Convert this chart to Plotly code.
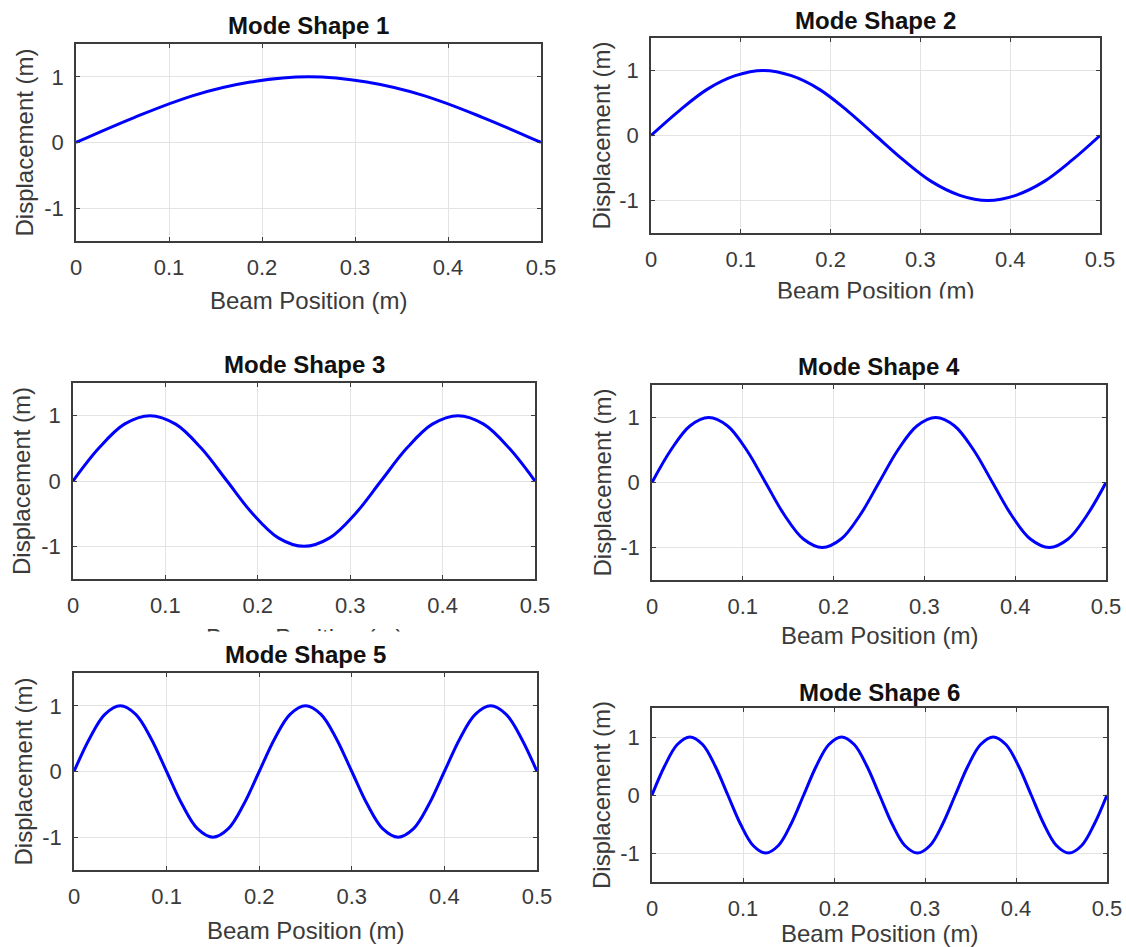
import plotly.graph_objects as go

# ---- data ----
mode1_x = [0, 0.0625, 0.125, 0.1875, 0.25, 0.3125, 0.375, 0.4375, 0.5]
mode1_y = [0, 0.38, 0.71, 0.92, 1, 0.92, 0.71, 0.38, 0]

mode2_x = [0, 0.0313, 0.0625, 0.0938, 0.125, 0.1563, 0.1875, 0.2188, 0.25,
           0.2813, 0.3125, 0.3438, 0.375, 0.4063, 0.4375, 0.4688, 0.5]
mode2_y = [0, 0.38, 0.71, 0.92, 1, 0.92, 0.71, 0.38, 0,
           -0.38, -0.71, -0.92, -1, -0.92, -0.71, -0.38, 0]

mode3_x = [0, 0.0278, 0.0556, 0.0833, 0.1111, 0.1389, 0.1667, 0.1944, 0.2222, 0.25,
           0.2778, 0.3056, 0.3333, 0.3611, 0.3889, 0.4167, 0.4444, 0.4722, 0.5]
mode3_y = [0, 0.5, 0.87, 1, 0.87, 0.5, 0, -0.5, -0.87, -1,
           -0.87, -0.5, 0, 0.5, 0.87, 1, 0.87, 0.5, 0]

mode4_x = [0, 0.0208, 0.0417, 0.0625, 0.0833, 0.1042, 0.125, 0.1458, 0.1667, 0.1875, 0.2083, 0.2292,
           0.25, 0.2708, 0.2917, 0.3125, 0.3333, 0.3542, 0.375, 0.3958, 0.4167, 0.4375, 0.4583, 0.4792, 0.5]
mode4_y = [0, 0.5, 0.87, 1, 0.87, 0.5, 0, -0.5, -0.87, -1, -0.87, -0.5,
           0, 0.5, 0.87, 1, 0.87, 0.5, 0, -0.5, -0.87, -1, -0.87, -0.5, 0]

mode5_x = [0, 0.0167, 0.0333, 0.05, 0.0667, 0.0833, 0.1, 0.1167, 0.1333, 0.15, 0.1667, 0.1833,
           0.2, 0.2167, 0.2333, 0.25, 0.2667, 0.2833, 0.3, 0.3167, 0.3333, 0.35, 0.3667, 0.3833,
           0.4, 0.4167, 0.4333, 0.45, 0.4667, 0.4833, 0.5]
mode5_y = [0, 0.5, 0.87, 1, 0.87, 0.5, 0, -0.5, -0.87, -1, -0.87, -0.5,
           0, 0.5, 0.87, 1, 0.87, 0.5, 0, -0.5, -0.87, -1, -0.87, -0.5,
           0, 0.5, 0.87, 1, 0.87, 0.5, 0]

mode6_x = [0, 0.0139, 0.0278, 0.0417, 0.0556, 0.0694, 0.0833, 0.0972, 0.1111, 0.125, 0.1389, 0.1528,
           0.1667, 0.1806, 0.1944, 0.2083, 0.2222, 0.2361, 0.25, 0.2639, 0.2778, 0.2917, 0.3056, 0.3194,
           0.3333, 0.3472, 0.3611, 0.375, 0.3889, 0.4028, 0.4167, 0.4306, 0.4444, 0.4583, 0.4722, 0.4861, 0.5]
mode6_y = [0, 0.5, 0.87, 1, 0.87, 0.5, 0, -0.5, -0.87, -1, -0.87, -0.5,
           0, 0.5, 0.87, 1, 0.87, 0.5, 0, -0.5, -0.87, -1, -0.87, -0.5,
           0, 0.5, 0.87, 1, 0.87, 0.5, 0, -0.5, -0.87, -1, -0.87, -0.5, 0]

titles = ["Mode Shape 1", "Mode Shape 2", "Mode Shape 3", "Mode Shape 4", "Mode Shape 5", "Mode Shape 6"]
x_ticks = [0, 0.1, 0.2, 0.3, 0.4, 0.5]
x_ticklabels = ["0", "0.1", "0.2", "0.3", "0.4", "0.5"]
y_ticks = [-1, 0, 1]
y_ticklabels = ["-1", "0", "1"]
x_label = "Beam Position (m)"
y_label = "Displacement (m)"

xs = [mode1_x, mode2_x, mode3_x, mode4_x, mode5_x, mode6_x]
ys = [mode1_y, mode2_y, mode3_y, mode4_y, mode5_y, mode6_y]

# ---- layout geometry (pixels) ----
W, H = 1126, 947
# left, right, top, bottom of each plot box
boxes = [
    (76, 541, 44, 241),
    (651, 1100, 38, 233),
    (73, 535, 383, 579),
    (652, 1106, 385, 580),
    (74, 537, 673, 870),
    (652, 1107, 708, 882),
]
title_y = [25, 20, 364, 366, 654, 692]
xlabel_y = [300, 290, 637, 635, 930, 933]
ylabel_x = [24, 601, 22, 602, 23, 601]

FONT = "Liberation Sans, Arial, Helvetica, sans-serif"
TXT = "#3a3a3a"

fig = go.Figure()
layout = dict(width=W, height=H, margin=dict(l=0, r=0, t=0, b=0, autoexpand=False),
              paper_bgcolor="white", plot_bgcolor="white", showlegend=False,
              font=dict(family=FONT, color=TXT, size=22))
annotations = []
for i in range(6):
    k = "" if i == 0 else str(i + 1)
    L, R, T, B = boxes[i]
    fig.add_trace(go.Scatter(x=xs[i], y=ys[i], mode="lines",
                             line=dict(color="#0000ff", width=3, shape="spline", smoothing=1.0),
                             xaxis="x" + k, yaxis="y" + k, hoverinfo="skip"))
    common = dict(showline=True, mirror="ticks", linecolor="#3c3c3c", linewidth=1.5,
                  showgrid=True, gridcolor="#e3e3e3", gridwidth=1, automargin=False,
                  ticks="inside", ticklen=4, tickcolor="#3c3c3c", zeroline=False,
                  tickfont=dict(family=FONT, size=22, color=TXT))
    layout["xaxis" + k] = dict(domain=[L / W, R / W], anchor="y" + k, range=[0, 0.5],
                               tickvals=x_ticks, ticktext=x_ticklabels, ticklabelstandoff=6, **common)
    layout["yaxis" + k] = dict(domain=[1 - B / H, 1 - T / H], anchor="x" + k, range=[-1.5, 1.5],
                               tickvals=y_ticks, ticktext=y_ticklabels, ticklabelstandoff=6, **common)
    cx = (L + R) / 2
    annotations.append(dict(text="<b>" + titles[i] + "</b>", x=cx / W, y=1 - title_y[i] / H,
                            xref="paper", yref="paper", showarrow=False, xanchor="center", yanchor="middle",
                            font=dict(family=FONT, size=24, color="#111111")))
    annotations.append(dict(text=x_label, x=cx / W, y=1 - xlabel_y[i] / H,
                            xref="paper", yref="paper", showarrow=False, xanchor="center", yanchor="middle",
                            font=dict(family=FONT, size=24, color=TXT)))
    annotations.append(dict(text=y_label, x=ylabel_x[i] / W, y=1 - ((T + B) / 2) / H,
                            xref="paper", yref="paper", showarrow=False, xanchor="center", yanchor="middle",
                            textangle=-90, font=dict(family=FONT, size=24, color=TXT)))
    if i == 1:
        # the picture is cropped just below this label
        annotations.append(dict(text=" ", x=cx / W, y=1 - 298 / H, xref="paper", yref="paper",
                                showarrow=False, xanchor="center", yanchor="top", width=260, height=20,
                                bgcolor="white"))
    if i == 2:
        # only the top of this label is visible in the picture
        annotations.append(dict(text=" ", x=cx / W, y=1 - 631 / H, xref="paper", yref="paper",
                                showarrow=False, xanchor="center", yanchor="top", width=260, height=26,
                                bgcolor="white"))
layout["annotations"] = annotations
fig.update_layout(**layout)
fig.write_html("out.html", config={"displayModeBar": False},
               post_script="document.body.style.margin='0';document.body.style.padding='0';"
                           "document.documentElement.style.overflow='hidden';")
